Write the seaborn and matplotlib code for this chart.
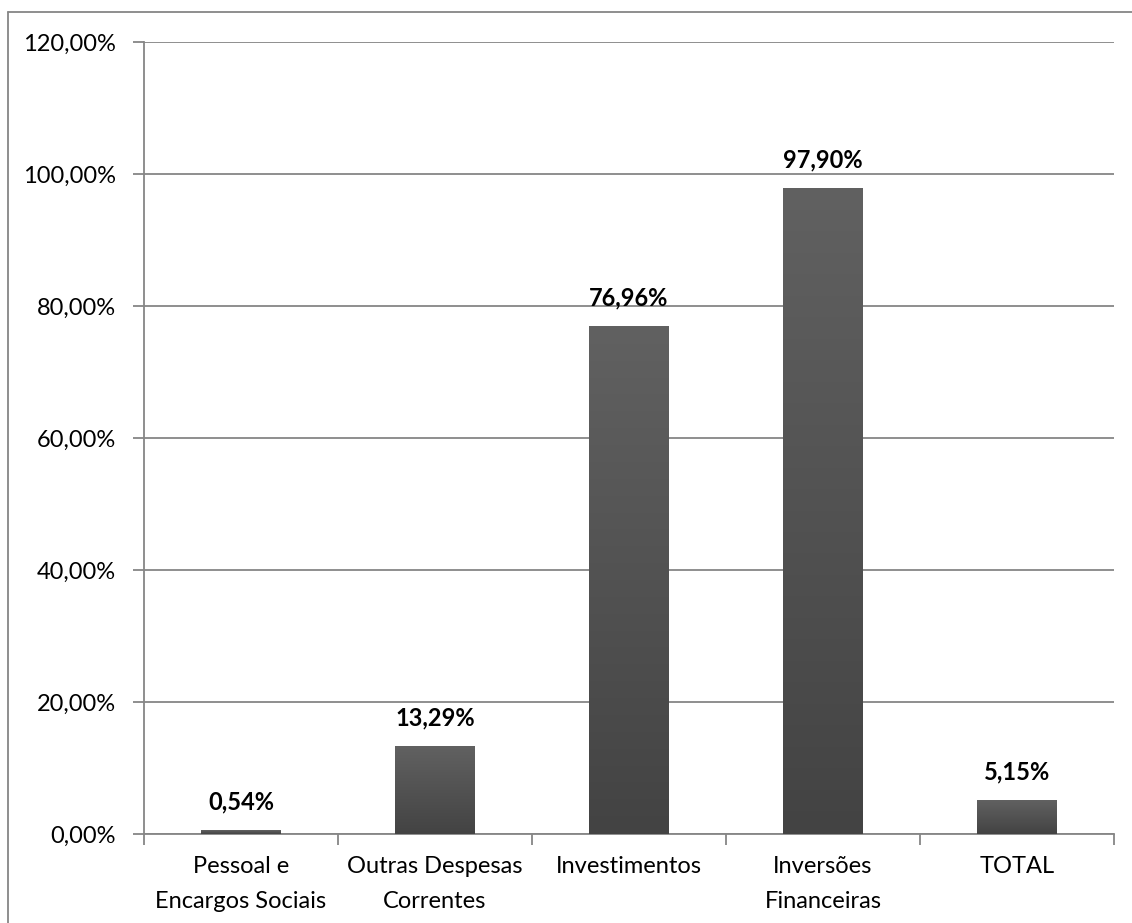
import matplotlib
matplotlib.use("Agg")
import matplotlib.pyplot as plt
import seaborn as sns
import numpy as np
import pandas as pd
from matplotlib.ticker import FixedLocator, FuncFormatter
from matplotlib.colors import LinearSegmentedColormap

categories = ["Pessoal e\nEncargos Sociais", "Outras Despesas\nCorrentes", "Investimentos",
              "Inversões\nFinanceiras", "TOTAL"]
values = [0.54, 13.29, 76.96, 97.90, 5.15]
yticks = [0, 20, 40, 60, 80, 100, 120]

sns.set_theme(style="white")
plt.rcParams['font.family'] = ['Lato', 'DejaVu Sans']

FS = 17

df = pd.DataFrame({"cat": categories, "val": values})

fig = plt.figure(figsize=(11.32, 9.23), dpi=100)
ax = fig.add_axes([144/1132, 89/923, 970/1132, 792/923])

sns.barplot(data=df, x="cat", y="val", color="#555555", width=0.41, ax=ax,
            saturation=1, edgecolor="none", zorder=3)

ax.set_ylim(0, 120)
ax.set_xlim(-0.5, len(categories) - 0.5)

grid_c = "#868686"
ax.set_yticks(yticks)
ax.yaxis.set_major_formatter(FuncFormatter(lambda v, p: f"{v:.2f}".replace(".", ",") + "%"))
ax.grid(axis="y", color=grid_c, linewidth=1.3, zorder=0)
ax.grid(axis="x", visible=False)
ax.tick_params(axis="y", length=8, width=1.3, color=grid_c, direction="out", labelsize=FS,
               pad=12, labelcolor="black", left=True)

ax.set_xticks(range(len(categories)))
ax.set_xticklabels(categories, fontsize=FS, color="black", linespacing=1.8)
ax.tick_params(axis="x", length=0, pad=16)
ax.xaxis.set_minor_locator(FixedLocator(np.arange(-0.5, len(categories), 1.0)))
ax.tick_params(axis="x", which="minor", length=8, width=1.3, color=grid_c, direction="out", bottom=True)

ax.set_xlabel("")
ax.set_ylabel("")
for side in ["top", "right"]:
    ax.spines[side].set_visible(False)
for side in ["left", "bottom"]:
    ax.spines[side].set_color(grid_c)
    ax.spines[side].set_linewidth(1.3)

# gradient fill for bars
cmap = LinearSegmentedColormap.from_list("g", ["#434343", "#616161"])
grad = np.linspace(0, 1, 256).reshape(-1, 1)
for patch in list(ax.patches):
    x0, y0 = patch.get_x(), patch.get_y()
    w, h = patch.get_width(), patch.get_height()
    im = ax.imshow(grad, cmap=cmap, extent=[x0, x0 + w, y0, y0 + h], origin="lower",
                   aspect="auto", zorder=4, interpolation="bilinear")
    im.set_clip_path(patch)

for i, v in enumerate(values):
    ax.annotate(f"{v:.2f}".replace(".", ",") + "%", xy=(i, v), xytext=(0, 12),
                textcoords="offset points", ha="center", va="bottom",
                fontsize=FS, fontweight="bold", color="black", zorder=5)

ax.set_aspect("auto")
ax.set_xlim(-0.5, len(categories) - 0.5)
ax.set_ylim(0, 120)

# outer chart border (left and top visible)
fig.add_artist(plt.Line2D([8/1132, 8/1132], [0, 1 - 12/923], transform=fig.transFigure,
                          color="#868686", linewidth=1.3))
fig.add_artist(plt.Line2D([8/1132, 1], [1 - 12/923, 1 - 12/923], transform=fig.transFigure,
                          color="#868686", linewidth=1.3))

fig.savefig("out.png", dpi=100, facecolor="white")
